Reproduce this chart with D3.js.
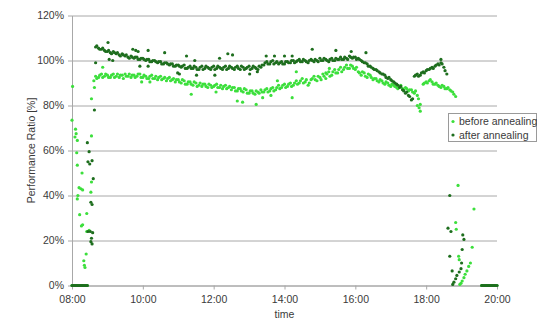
<!DOCTYPE html>
<html>
<head>
<meta charset="utf-8">
<script src="https://cdn.jsdelivr.net/npm/d3@7"></script>
<style>
  html, body { margin: 0; padding: 0; background: #fff; }
  svg { display: block; font-family: "Liberation Sans", Arial, sans-serif; }
</style>
</head>
<body>
<svg id="chart" width="537" height="320"></svg>
<script>
// Axis ticks
const yTicks = [0, 20, 40, 60, 80, 100, 120];
const xTickLabels = ["08:00", "10:00", "12:00", "14:00", "16:00", "18:00", "20:00"];

// Series names / colours
const seriesNames = ["before annealing", "after annealing"];
const seriesColors = ["#3cdf3c", "#1e6e1e"];

// Performance ratio [%] — before annealing
const beforeNight = [
  ["08:00",0],["08:02",0],["08:04",0],["08:06",0],["08:08",0],["08:10",0],["08:12",0],
  ["08:14",0],["08:16",0],["08:18",0],["08:20",0],["08:22",0],["08:24",0],["08:26",0],
  ["19:34",0],["19:36",0],["19:38",0],["19:40",0],["19:42",0],["19:44",0],["19:46",0],
  ["19:48",0],["19:50",0],["19:52",0],["19:54",0],["19:56",0],["19:58",0],["20:00",0]
];
const beforeMorning = [
  ["08:01",88.5],["08:00",73.5],["08:05",66],["08:06",69.5],["08:07",67.5],["08:09",64.5],
  ["08:08",59],["08:09",53.5],["08:17",50],["08:12",43.5],["08:15",43],["08:18",42.5],
  ["08:33",46],["08:10",40],["08:09",38.5],["08:32",41.5],["08:13",31.5],["08:25",32],
  ["08:18",27],["08:16",26.5],["08:25",24],["08:29",24.5],["08:24",14],["08:20",11],
  ["08:21",9],["08:22",8],["08:33",66.5],["08:33",83],["08:38",88],["08:37",91]
];
const beforeDay = [
  ["08:40",93],["08:45",92.5],["08:50",94],["08:55",93],["09:00",93.5],["09:05",92.5],
  ["09:10",94],["09:15",93],["09:20",92.5],["09:25",93.5],["09:30",94],["09:35",93],
  ["09:40",92.5],["09:45",93.5],["09:50",93],["09:55",94],["10:00",92.5],["10:05",93],
  ["10:10",92],["10:15",93.5],["10:20",92],["10:25",91.5],["10:30",93],["10:35",92],
  ["10:40",91],["10:45",92.5],["10:50",91.5],["10:55",90.5],["11:00",91.5],["11:05",90],
  ["11:10",91],["11:15",89.5],["11:20",90.5],["11:25",89],["11:30",90],["11:35",89],
  ["11:40",88.5],["11:45",89.5],["11:50",88],["11:55",89],["12:00",88.5],["12:05",89.5],
  ["12:10",88],["12:15",87.5],["12:20",89],["12:25",88],["12:30",87],["12:35",88],
  ["12:40",86.5],["12:45",87.5],["12:50",86],["12:55",87],["13:00",85.5],["13:05",86.5],
  ["13:10",85],["13:15",86],["13:20",87],["13:25",86],["13:30",87.5],["13:35",86.5],
  ["13:40",88],["13:45",87],["13:50",89],["13:55",88],["14:00",89.5],["14:05",88.5],
  ["14:10",90],["14:15",89],["14:20",91],["14:25",90],["14:30",92],["14:35",90.5],
  ["14:40",89],["14:45",91.5],["14:50",93],["14:55",91],["15:00",92.5],["15:05",94],
  ["15:10",92],["15:15",95],["15:20",93.5],["15:25",96],["15:30",94.5],["15:35",97],
  ["15:40",96],["15:45",98],["15:50",96.5],["15:55",97.5],["16:00",96],["16:05",95],
  ["16:10",93.5],["16:15",94.5],["16:20",92.5],["16:25",93.5],["16:30",91.5],["16:35",92],
  ["16:40",90.5],["16:45",91],["16:50",89.5],["16:55",90],["17:00",88.5],["17:05",89],
  ["17:10",88],["17:15",88.5],["17:20",87.5],["17:25",88],["17:30",86.5],["17:35",87],
  ["17:40",85.5],["17:45",84.5],["17:50",80.5],["17:55",89.5],["18:00",90.5],["18:05",91],
  ["18:10",90.5],["18:15",89.5],["18:20",89],["18:25",88],["18:30",88.5],["18:35",87.5],
  ["18:40",87],["18:45",86],["18:50",84]
];
const beforeDayB = [
  ["08:42",92],["08:47",93.5],["08:52",92.5],["08:57",94],["09:02",92.5],["09:07",93.5],
  ["09:12",92.5],["09:17",94],["09:22",93.5],["09:27",92],["09:32",93],["09:37",94],
  ["09:42",93.5],["09:47",92.5],["09:52",94],["09:57",92.5],["10:02",93.5],["10:07",92],
  ["10:12",93],["10:17",92],["10:22",93],["10:27",92.5],["10:32",91.5],["10:37",92.5],
  ["10:42",92],["10:47",91],["10:52",92],["10:57",91.5],["11:02",90.5],["11:07",91.5],
  ["11:12",89.5],["11:17",90.5],["11:22",89.5],["11:27",90.5],["11:32",88.5],["11:37",90],
  ["11:42",89.5],["11:47",88.5],["11:52",89.5],["11:57",88],["12:02",89],["12:07",88],
  ["12:12",89],["12:17",88.5],["12:22",87.5],["12:27",88.5],["12:32",88],["12:37",86.5],
  ["12:42",87.5],["12:47",86.5],["12:52",87.5],["12:57",85.5],["13:02",86.5],["13:07",85.5],
  ["13:12",86.5],["13:17",85.5],["13:22",86],["13:27",87],["13:32",86],["13:37",87.5],
  ["13:42",86.5],["13:47",88],["13:52",87.5],["13:57",89],["14:02",88],["14:07",89.5],
  ["14:12",88.5],["14:17",90],["14:22",89.5],["14:27",91],["14:32",90],["14:37",91.5],
  ["14:42",90],["14:47",92],["14:52",91.5],["14:57",93],["15:02",91.5],["15:07",93],
  ["15:12",94],["15:17",93],["15:22",95],["15:27",94.5],["15:32",96],["15:37",95],
  ["15:42",97],["15:47",96.5],["15:52",98],["15:57",96.5],["16:02",97],["16:07",94.5],
  ["16:12",95],["16:17",93],["16:22",94],["16:27",92.5],["16:32",92],["16:37",91],
  ["16:42",91.5],["16:47",90],["16:52",90.5],["16:57",89],["17:02",89.5],["17:07",88.5],
  ["17:12",87.5],["17:17",89],["17:22",87],["17:27",87.5],["17:32",87],["17:37",86],
  ["17:42",86.5],["17:47",83],["17:57",90],["18:02",90],["18:07",91.5],["18:12",89.5],
  ["18:17",90],["18:22",88.5],["18:27",89],["18:32",87.5],["18:37",88],["18:42",86.5],
  ["18:47",85]
];
const beforeScatter = [
  ["08:52",97],["09:58",90.5],["10:12",90.5],["11:22",85],["12:04",86],["12:40",82],
  ["12:49",81.5],["13:12",80.5],["13:23",83.5],["13:37",84.5],["13:48",91],["14:13",83.5],
  ["14:20",95],["15:10",94.5],["15:16",96.5],["17:45",80],["17:48",79],["17:50",77.5]
];
const beforeEvening = [
  ["18:54",44.5],["19:21",34],["18:50",28],["18:51",25],["19:18",17],["18:55",13],
  ["18:56",11.5],["18:57",0.5],["18:59",1],["19:01",2],["19:04",3.5],["19:06",5],
  ["19:09",6.5],["19:12",8.5],["19:15",10]
];

// Performance ratio [%] — after annealing
const afterNight = [
  ["08:00",0],["08:02",0],["08:04",0],["08:06",0],["08:08",0],["08:10",0],["08:12",0],
  ["08:14",0],["08:16",0],["08:18",0],["08:20",0],["08:22",0],["08:24",0],["08:26",0],
  ["19:34",0],["19:36",0],["19:38",0],["19:40",0],["19:42",0],["19:44",0],["19:46",0],
  ["19:48",0],["19:50",0],["19:52",0],["19:54",0],["19:56",0],["19:58",0],["20:00",0]
];
const afterMorning = [
  ["08:40",99],["08:38",78],["08:26",63.5],["08:29",59.5],["08:27",55],["08:30",54],
  ["08:34",55.5],["08:36",47.5],["08:32",37],["08:34",36],["08:27",24],["08:31",24],
  ["08:35",23.5],["08:32",19.5],["08:34",18.5],["08:33",21]
];
const afterDay = [
  ["08:40",106],["08:45",105.5],["08:50",105],["08:55",104.5],["09:00",104],["09:05",103.5],
  ["09:10",104],["09:15",103],["09:20",102.5],["09:25",103],["09:30",102],["09:35",101.5],
  ["09:40",102],["09:45",101],["09:50",101.5],["09:55",100.5],["10:00",101],["10:05",100],
  ["10:10",100.5],["10:15",99.5],["10:20",100],["10:25",99],["10:30",99.5],["10:35",98.5],
  ["10:40",99],["10:45",98],["10:50",98.5],["10:55",97.5],["11:00",98],["11:05",97],
  ["11:10",98],["11:15",96.5],["11:20",97.5],["11:25",96.5],["11:30",97],["11:35",96],
  ["11:40",97.5],["11:45",96.5],["11:50",97],["11:55",96],["12:00",97.5],["12:05",96.5],
  ["12:10",97],["12:15",96],["12:20",97.5],["12:25",96.5],["12:30",97],["12:35",96],
  ["12:40",97.5],["12:45",96],["12:50",97],["12:55",96.5],["13:00",97.5],["13:05",96.5],
  ["13:10",97],["13:15",96],["13:20",97],["13:25",98],["13:30",99.5],["13:35",98.5],
  ["13:40",100],["13:45",99],["13:50",98.5],["13:55",99.5],["14:00",98.5],["14:05",99.5],
  ["14:10",99],["14:15",100],["14:20",99.5],["14:25",100.5],["14:30",99.5],["14:35",100],
  ["14:40",99],["14:45",100.5],["14:50",99.5],["14:55",100],["15:00",101],["15:05",100],
  ["15:10",100.5],["15:15",99.5],["15:20",101],["15:25",100],["15:30",100.5],["15:35",101.5],
  ["15:40",100.5],["15:45",101],["15:50",102],["15:55",101],["16:00",101.5],["16:05",101],
  ["16:10",100],["16:15",99],["16:20",98.5],["16:25",97.5],["16:30",96.5],["16:35",96],
  ["16:40",95],["16:45",94],["16:50",93.5],["16:55",92],["17:00",91.5],["17:05",90.5],
  ["17:10",89.5],["17:15",88],["17:20",87],["17:25",85.5],["17:30",84.5],["17:35",82.5],
  ["17:40",93],["17:45",94],["17:50",93.5],["17:55",95],["18:00",95.5],["18:05",96],
  ["18:10",97],["18:15",97.5],["18:20",98.5],["18:25",99],["18:30",97],["18:35",94]
];
const afterDayB = [
  ["08:42",106.5],["08:47",105],["08:52",105.5],["08:57",104],["09:02",104.5],["09:07",103],
  ["09:12",103.5],["09:17",103.5],["09:22",102],["09:27",102.5],["09:32",102.5],["09:37",101],
  ["09:42",101.5],["09:47",101.5],["09:52",100.5],["09:57",101],["10:02",100.5],["10:07",100.5],
  ["10:12",99.5],["10:17",100],["10:22",99.5],["10:27",99.5],["10:32",98.5],["10:37",99],
  ["10:42",98.5],["10:47",98.5],["10:52",97.5],["10:57",98],["11:02",97.5],["11:07",97.5],
  ["11:12",96.5],["11:17",97],["11:22",96.5],["11:27",97.5],["11:32",96],["11:37",97],
  ["11:42",96],["11:47",97.5],["11:52",96.5],["11:57",97],["12:02",96],["12:07",97.5],
  ["12:12",96.5],["12:17",97],["12:22",96],["12:27",97.5],["12:32",96.5],["12:37",97],
  ["12:42",96.5],["12:47",97.5],["12:52",96],["12:57",97],["13:02",96],["13:07",97.5],
  ["13:12",96.5],["13:17",97.5],["13:22",98],["13:27",99],["13:32",98.5],["13:37",99.5],
  ["13:42",98.5],["13:47",99.5],["13:52",99],["13:57",98.5],["14:02",99.5],["14:07",99],
  ["14:12",100],["14:17",99],["14:22",100],["14:27",99.5],["14:32",100.5],["14:37",99.5],
  ["14:42",100],["14:47",100],["14:52",100.5],["14:57",99.5],["15:02",100],["15:07",101],
  ["15:12",100],["15:17",100.5],["15:22",100],["15:27",101],["15:32",100.5],["15:37",100.5],
  ["15:42",101.5],["15:47",100.5],["15:52",101.5],["15:57",101.5],["16:02",100.5],["16:07",100.5],
  ["16:12",99.5],["16:17",99],["16:22",97.5],["16:27",97],["16:32",96],["16:37",95.5],
  ["16:42",94.5],["16:47",94],["16:52",92.5],["16:57",92.5],["17:02",91],["17:07",90],
  ["17:12",89],["17:17",88.5],["17:22",86.5],["17:27",86],["17:32",84],["17:37",83],
  ["17:42",93.5],["17:47",93],["17:52",94.5],["17:57",94.5],["18:02",96],["18:07",96.5],
  ["18:12",96.5],["18:17",98],["18:22",98],["18:27",98.5],["18:32",95.5]
];
const afterScatter = [
  ["09:01",108],["09:43",105],["09:48",104.5],["09:52",104],["10:09",104.5],["10:37",103.5],
  ["09:03",100.5],["09:09",100],["09:55",97.5],["10:09",97.5],["10:59",94.5],["11:02",94],
  ["11:14",102],["11:28",100],["11:31",93.5],["12:02",93.5],["12:10",101],["12:24",103],
  ["12:32",102.5],["13:01",94],["13:14",95],["13:29",102],["13:43",102],["14:00",102],
  ["14:13",102],["14:47",105],["15:27",104.5],["15:53",104],["16:18",103.5],["18:25",100.5]
];
const afterEvening = [
  ["18:40",40],["18:37",25.5],["18:42",24],["19:02",22.5],["19:04",20.5],["19:01",16],
  ["18:40",13],["18:44",6.5],["19:00",10],["18:59",7.5],["18:56",6],["18:52",4.5],
  ["18:50",3],["18:47",1.5],["18:45",0.5]
];

const beforeAll = [...beforeNight, ...beforeMorning, ...beforeDay, ...beforeDayB, ...beforeScatter, ...beforeEvening];
const afterAll = [...afterNight, ...afterMorning, ...afterDay, ...afterDayB, ...afterScatter, ...afterEvening];

const toMinutes = s => { const [h, m] = s.split(":").map(Number); return h * 60 + m; };

const svg = d3.select("#chart");
const plotLeft = 72, plotRight = 497, plotTop = 15.5, plotBottom = 285.5;

const x = d3.scaleLinear().domain([toMinutes("08:00"), toMinutes("20:00")]).range([plotLeft, plotRight]);
const y = d3.scaleLinear().domain([0, 120]).range([plotBottom, plotTop]);

const textColor = "#3a3a3a";
const gridColor = "#a8a8a8";

// horizontal gridlines
const grid = svg.append("g")
  .attr("transform", `translate(${plotLeft},0)`)
  .call(d3.axisLeft(y).tickValues(yTicks).tickSize(-(plotRight - plotLeft)).tickFormat(""));
grid.select(".domain").remove();
grid.selectAll("line").attr("stroke", gridColor).attr("stroke-width", 1);

// y axis with labels
const yAxis = svg.append("g")
  .attr("transform", `translate(${plotLeft},0)`)
  .call(d3.axisLeft(y).tickValues(yTicks).tickSize(4).tickSizeOuter(0).tickPadding(4)
    .tickFormat(d => d + "%"));
yAxis.select(".domain").attr("stroke", gridColor);
yAxis.selectAll("line").attr("stroke", gridColor);
yAxis.selectAll("text").attr("fill", textColor).attr("font-size", 10.5)
  .attr("font-family", "Liberation Sans, Arial, sans-serif");

// x axis
const xAxis = svg.append("g")
  .attr("transform", `translate(0,${plotBottom})`)
  .call(d3.axisBottom(x).tickValues(xTickLabels.map(toMinutes)).tickSize(4).tickSizeOuter(0)
    .tickPadding(6).tickFormat((d, i) => xTickLabels[i]));
xAxis.select(".domain").attr("stroke", gridColor);
xAxis.selectAll("line").attr("stroke", gridColor);
xAxis.selectAll("text").attr("fill", textColor).attr("font-size", 10.5)
  .attr("font-family", "Liberation Sans, Arial, sans-serif");

// axis titles
svg.append("text")
  .attr("x", (plotLeft + plotRight) / 2).attr("y", 318)
  .attr("text-anchor", "middle").attr("font-size", 10.5).attr("fill", textColor)
  .text("time");
svg.append("text")
  .attr("transform", `translate(31,${(plotTop + plotBottom) / 2}) rotate(-90)`)
  .attr("text-anchor", "middle").attr("dy", "0.35em").attr("font-size", 10.5).attr("fill", textColor)
  .text("Performance Ratio [%]");

// data points: before first, after on top
[beforeAll, afterAll].forEach((data, i) => {
  svg.append("g").selectAll("circle").data(data).join("circle")
    .attr("cx", d => x(toMinutes(d[0])))
    .attr("cy", d => y(d[1]))
    .attr("r", 1.6)
    .attr("fill", seriesColors[i]);
});

// legend
const legend = svg.append("g").attr("transform", "translate(448.5,113.5)");
legend.append("rect").attr("width", 88).attr("height", 28)
  .attr("fill", "#fff").attr("stroke", "#9a9a9a").attr("stroke-width", 1);
seriesNames.forEach((name, i) => {
  const ly = 8 + i * 13.5;
  legend.append("circle").attr("cx", 4.5).attr("cy", ly).attr("r", 1.6).attr("fill", seriesColors[i]);
  legend.append("text").attr("x", 10.5).attr("y", ly).attr("dy", "0.35em")
    .attr("font-size", 10.5).attr("fill", textColor).text(name);
});
</script>
</body>
</html>
